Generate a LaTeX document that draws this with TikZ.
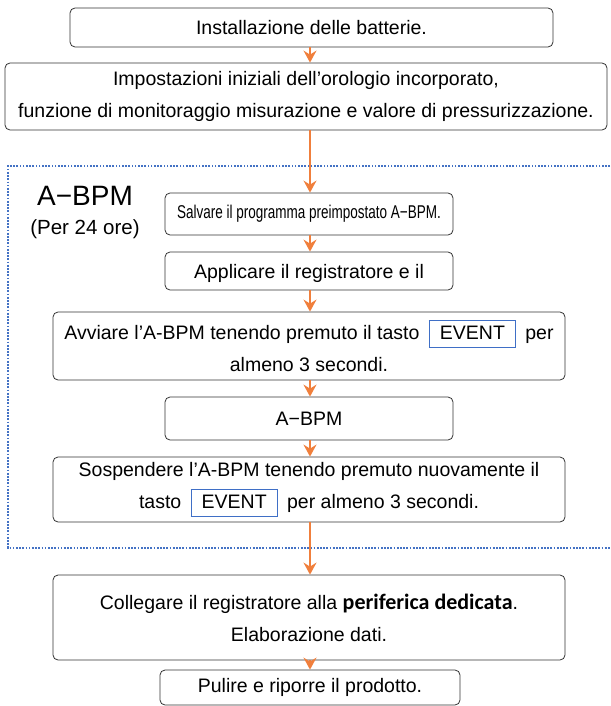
\documentclass[tikz,border=0pt]{standalone}
\usepackage{fontspec}
\setmainfont{Liberation Sans}
\newfontfamily\calfont{Carlito}
\usetikzlibrary{arrows.meta}
\definecolor{arrorange}{HTML}{F07F3C}
\definecolor{dotblue}{HTML}{4472C4}
\definecolor{evblue}{HTML}{3F6FC6}
\newcommand\evbox[1]{{\setlength\fboxsep{0pt}\setlength\fboxrule{1pt}\fcolorbox{evblue}{white}{\rule[-7pt]{0pt}{26pt}\hspace{10pt}#1\hspace{10pt}}}}
\tikzset{
  box/.style={draw=black!80, rounded corners=5pt, line width=0.8pt, align=center, inner sep=0pt,
    font=\fontsize{19.5}{32}\selectfont},
  flow/.style={draw=arrorange, line width=1.6pt, -{Stealth[length=12pt,width=13pt,inset=4pt]}},
  lbl/.style={inner sep=0pt, align=center},
  frame/.style={draw=dotblue, line width=1.7pt, dash pattern=on 1.7pt off 1.5pt},
}
\begin{document}
\begin{tikzpicture}[x=1pt,y=-1pt]
\useasboundingbox (0,0) rectangle (610,706);
% dotted frame
\draw[frame] (610,166) -- (8,166) -- (8,548) -- (610,548);
% boxes
\node[box, minimum width=483pt, minimum height=39pt] (b1) at (311.5,27.5) {Installazione delle batterie.};
\node[box, minimum width=602pt, minimum height=67pt] (b2) at (306,96.5) {Impostazioni iniziali dell’orologio incorporato,\\funzione di monitoraggio misurazione e valore di pressurizzazione.};
\node[box, minimum width=288pt, minimum height=42pt] (b3) at (309,214) {\fontsize{18.5}{20}\selectfont\scalebox{0.73}[1]{Salvare il programma preimpostato A−BPM.}};
\node[box, minimum width=288pt, minimum height=38pt] (b4) at (309,271) {};
\node[lbl, font=\fontsize{19.5}{24}\selectfont] (b4t) at (309,273) {Applicare il registratore e il};
\node[box, minimum width=512pt, minimum height=68pt] (b5) at (309,346) {Avviare l’A-BPM tenendo premuto il tasto \hspace{4pt}\evbox{EVENT}\hspace{4pt} per\\almeno 3 secondi.};
\node[box, minimum width=288pt, minimum height=43pt] (b6) at (309,418.5) {A−BPM};
\node[box, minimum width=512pt, minimum height=65pt] (b7) at (309,489.5) {Sospendere l’A-BPM tenendo premuto nuovamente il\\tasto \hspace{4pt}\evbox{EVENT}\hspace{4pt} per almeno 3 secondi.};
\node[box, minimum width=512pt, minimum height=85pt] (b8) at (309,617.5) {Collegare il registratore alla {\calfont\bfseries\fontsize{22}{32}\selectfont periferica dedicata}.\\Elaborazione dati.};
\node[box, minimum width=300pt, minimum height=35pt] (b9) at (310,687.5) {Pulire e riporre il prodotto.};
% side label
\node[lbl, font=\fontsize{28}{30}\selectfont] (lab1) at (85,196) {A−BPM};
\node[lbl, font=\fontsize{20.5}{24}\selectfont] (lab2) at (85,229) {(Per 24 ore)};
% arrows
\coordinate (ax) at (310,0);
\draw[flow] (ax |- b1.south) -- (ax |- b2.north);
\draw[flow] (ax |- b2.south) -- (ax |- b3.north);
\draw[flow] (ax |- b3.south) -- (ax |- b4.north);
\draw[flow] (ax |- b4.south) -- (ax |- b5.north);
\draw[flow] (ax |- b5.south) -- (ax |- b6.north);
\draw[flow] (ax |- b6.south) -- (ax |- b7.north);
\draw[flow] (ax |- b7.south) -- (ax |- b8.north);
\draw[flow] (ax |- b8.south) -- (ax |- b9.north);
\end{tikzpicture}
\end{document}
